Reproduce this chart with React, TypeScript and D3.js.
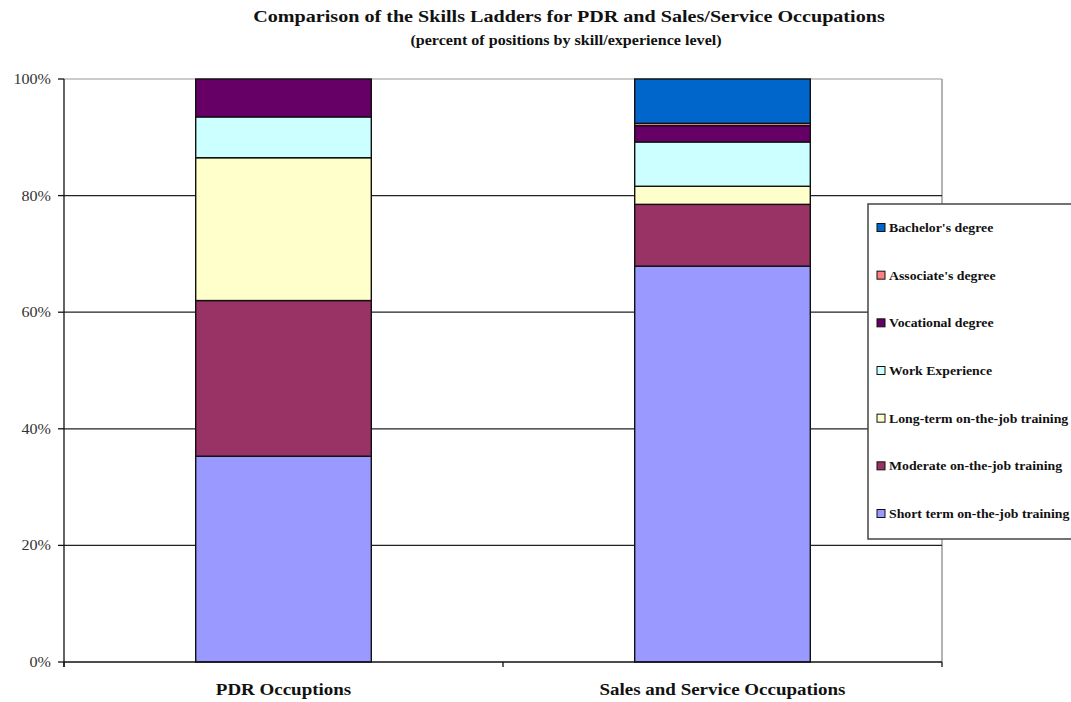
import React, { useEffect } from "react";
import * as d3 from "d3";

// Occupation groups along the x axis
const categories = ["PDR Occuptions", "Sales and Service Occupations"];

// Skill / experience levels, bottom of the stack first
const seriesNames = [
  "Short term on-the-job training",
  "Moderate on-the-job training",
  "Long-term on-the-job training",
  "Work Experience",
  "Vocational degree",
  "Associate's degree",
  "Bachelor's degree",
];

// Percent of positions per level, one array per occupation group
const pdrValues = [35.3, 26.7, 24.5, 7.0, 6.5, 0, 0];
const salesValues = [67.9, 10.6, 3.1, 7.6, 2.8, 0.4, 7.6];

const seriesColors = ["#9999FF", "#993366", "#FFFFCC", "#CCFFFF", "#660066", "#FF8080", "#0066CC"];

const yTicks = [0, 20, 40, 60, 80, 100];

const W = 1071;
const H = 702;
const margin = { left: 64, right: 129, top: 79, bottom: 40 };
const SERIF = "'Liberation Serif', 'Times New Roman', serif";
const STRETCH = 1.15;

// Text drawn slightly widened, as in the printed original
function Txt(props: {
  x: number;
  y: number;
  size: number;
  anchor?: string;
  bold?: boolean;
  fill?: string;
  children: React.ReactNode;
}) {
  const { x, y, size, anchor = "start", bold = false, fill = "#111", children } = props;
  return (
    <text
      transform={`translate(${x},${y}) scale(${STRETCH},1)`}
      textAnchor={anchor}
      fontSize={size}
      fontWeight={bold ? "bold" : "normal"}
      fill={fill}
    >
      {children}
    </text>
  );
}

export default function App() {
  useEffect(() => {
    document.body.style.margin = "0";
  }, []);

  const rows = categories.map((c, i) => {
    const vals = i === 0 ? pdrValues : salesValues;
    const r: Record<string, any> = { category: c };
    seriesNames.forEach((s, j) => (r[s] = vals[j]));
    return r;
  });

  const stack = d3.stack<any>().keys(seriesNames);
  const layers = stack(rows);

  const x0 = margin.left;
  const x1 = W - margin.right;
  const yTop = margin.top;
  const yBot = 662;

  const x = d3.scaleBand<string>().domain(categories).range([x0, x1]).padding(0);
  const y = d3.scaleLinear().domain([0, 100]).range([yBot, yTop]);
  const barW = x.bandwidth() * 0.4;

  const legendItems = [...seriesNames].reverse();
  const legendColors = [...seriesColors].reverse();
  const legendY = d3.scalePoint<string>().domain(legendItems).range([228, 514]);

  return (
    <svg width={W} height={H} style={{ display: "block", background: "#fff" }} fontFamily={SERIF}>
      {/* titles */}
      <Txt x={569} y={22} size={17.5} anchor="middle" bold>
        Comparison of the Skills Ladders for PDR and Sales/Service Occupations
      </Txt>
      <Txt x={566} y={45} size={14} anchor="middle" bold>
        (percent of positions by skill/experience level)
      </Txt>

      {/* plot frame */}
      <line x1={x0} x2={x1} y1={yTop} y2={yTop} stroke="#999" strokeWidth={1.2} />
      <line x1={x1} x2={x1} y1={yTop} y2={yBot} stroke="#999" strokeWidth={1.5} />

      {/* gridlines */}
      {yTicks.filter((t) => t > 0 && t < 100).map((t) => (
        <line key={t} x1={x0} x2={x1} y1={y(t)} y2={y(t)} stroke="#222" strokeWidth={1.2} />
      ))}

      {/* stacked bars */}
      {layers.map((layer, li) => (
        <g key={layer.key} fill={seriesColors[li]}>
          {layer.map((d, di) => {
            const cx = (x(categories[di]) as number) + x.bandwidth() / 2;
            const h = y(d[0]) - y(d[1]);
            if (h <= 0) return null;
            return (
              <rect
                key={di}
                x={cx - barW / 2}
                y={y(d[1])}
                width={barW}
                height={h}
                stroke="#111"
                strokeWidth={1.4}
              />
            );
          })}
        </g>
      ))}

      {/* y axis */}
      <line x1={x0} x2={x0} y1={yTop} y2={yBot + 5} stroke="#111" strokeWidth={1.3} />
      {yTicks.map((t) => (
        <g key={t}>
          <line x1={x0 - 6} x2={x0} y1={y(t)} y2={y(t)} stroke="#111" strokeWidth={1.3} />
          <Txt x={51} y={y(t) + 5} size={14} anchor="end" fill="#333">
            {t}%
          </Txt>
        </g>
      ))}

      {/* x axis */}
      <line x1={x0} x2={x1} y1={yBot} y2={yBot} stroke="#111" strokeWidth={1.3} />
      {[x0, ...categories.slice(1).map((c) => x(c) as number), x1].map((px, i) => (
        <line key={i} x1={px} x2={px} y1={yBot} y2={yBot + 5} stroke="#111" strokeWidth={1.3} />
      ))}
      {categories.map((c) => (
        <Txt key={c} x={(x(c) as number) + x.bandwidth() / 2} y={695} size={16.5} anchor="middle" bold>
          {c}
        </Txt>
      ))}

      {/* legend */}
      <rect x={868} y={204} width={220} height={335} fill="#fff" stroke="#444" strokeWidth={1.5} />
      {legendItems.map((s, i) => {
        const ly = legendY(s) as number;
        return (
          <g key={s}>
            <rect x={877} y={ly - 4.5} width={8} height={8} fill={legendColors[i]} stroke="#111" strokeWidth={1} />
            <Txt x={889} y={ly + 4} size={12} bold>
              {s}
            </Txt>
          </g>
        );
      })}
    </svg>
  );
}
